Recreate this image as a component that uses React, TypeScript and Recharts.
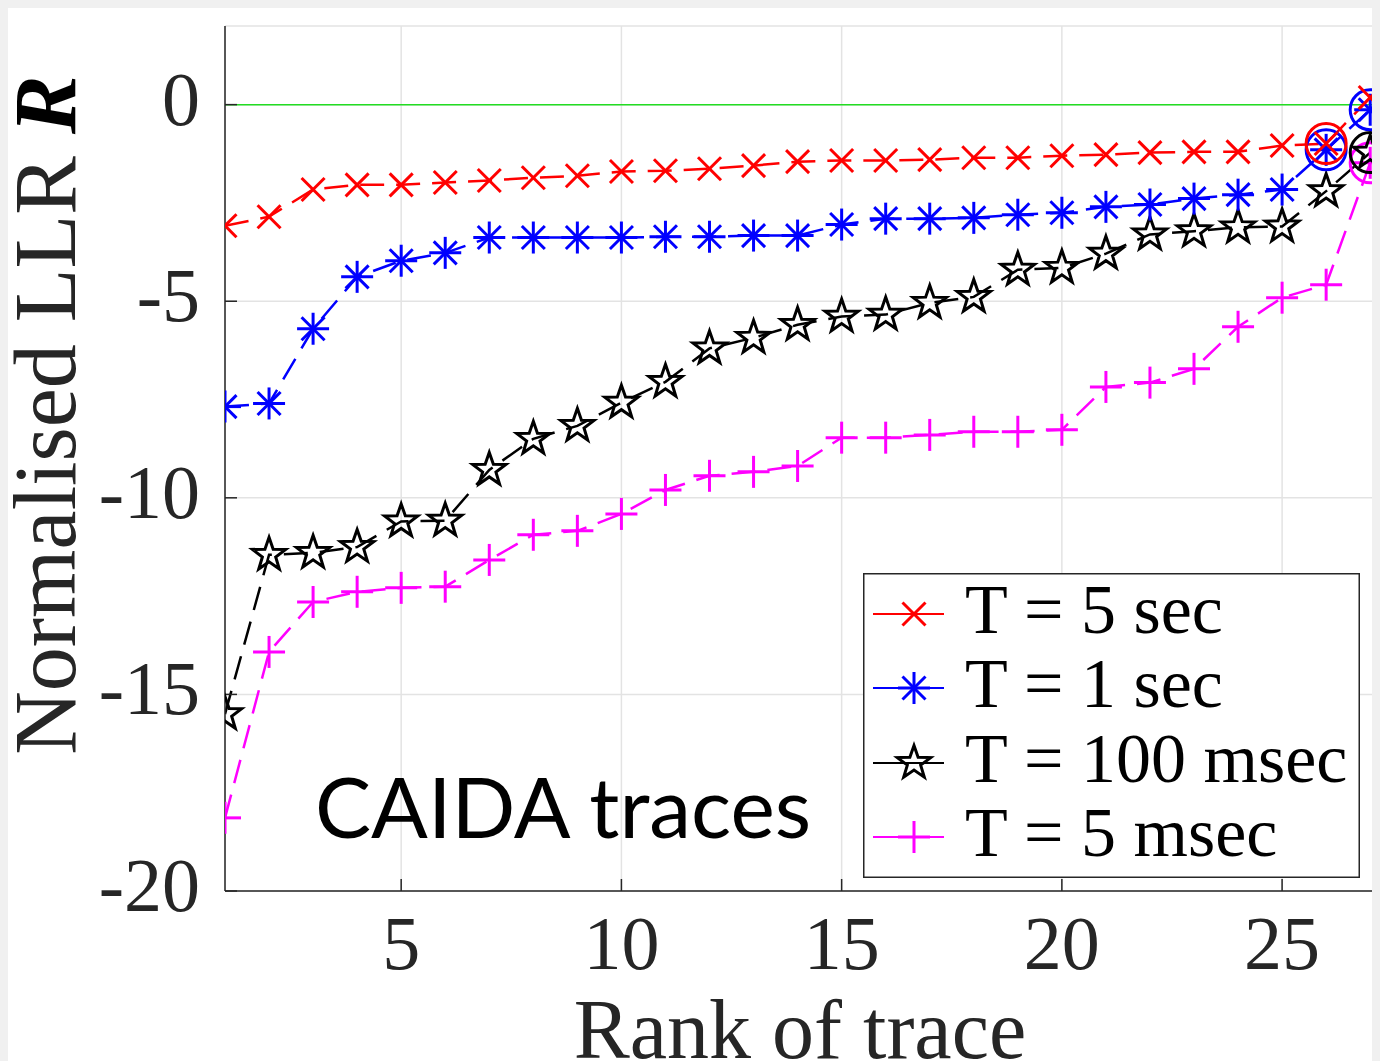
import React, { useEffect } from 'react';
import { LineChart, Line, XAxis, YAxis, CartesianGrid, ReferenceLine, Label } from 'recharts';

// rank of trace (x) and normalised LLR values per window length T
const ranks = [1, 2, 3, 4, 5, 6, 7, 8, 9, 10, 11, 12, 13, 14, 15, 16, 17, 18, 19, 20, 21, 22, 23, 24, 25, 26, 27];
const t5sec = [-3.08, -2.85, -2.16, -2.04, -2.04, -1.98, -1.93, -1.86, -1.81, -1.7, -1.68, -1.63, -1.55, -1.45, -1.42, -1.42, -1.4, -1.35, -1.35, -1.3, -1.27, -1.22, -1.2, -1.2, -1.04, -0.99, 0.18];
const t1sec = [-7.68, -7.6, -5.7, -4.38, -3.97, -3.77, -3.38, -3.38, -3.38, -3.38, -3.36, -3.36, -3.33, -3.33, -3.05, -2.9, -2.9, -2.88, -2.8, -2.75, -2.6, -2.54, -2.39, -2.29, -2.16, -1.15, -0.13];
const t100ms = [-15.5, -11.45, -11.4, -11.25, -10.6, -10.58, -9.29, -8.5, -8.17, -7.58, -7.05, -6.2, -5.93, -5.6, -5.39, -5.34, -5.04, -4.89, -4.2, -4.15, -3.79, -3.3, -3.22, -3.12, -3.1, -2.2, -1.22];
const t5ms = [-18.14, -13.92, -12.65, -12.39, -12.29, -12.26, -11.58, -10.94, -10.84, -10.41, -9.8, -9.44, -9.34, -9.19, -8.47, -8.47, -8.4, -8.32, -8.32, -8.27, -7.18, -7.07, -6.72, -5.65, -4.91, -4.58, -1.48];

// ranks whose point is circled in the figure
const circled5sec = [26];
const circled1sec = [26, 27];
const circled100ms = [27];
const circled5ms = [27];

const xTicks = [5, 10, 15, 20, 25];
const yTicks = [-20, -15, -10, -5, 0];

const legendLabels = ['T = 5 sec', 'T = 1 sec', 'T = 100 msec', 'T = 5 msec'];

const data = ranks.map((rank, i) => ({
  rank,
  t5sec: t5sec[i],
  t1sec: t1sec[i],
  t100ms: t100ms[i],
  t5ms: t5ms[i],
}));

type Shape = 'x' | 'asterisk' | 'star' | 'plus';

const SERIES: { key: string; color: string; shape: Shape; circled: number[] }[] = [
  { key: 't5sec', color: '#ff0000', shape: 'x', circled: circled5sec },
  { key: 't1sec', color: '#0000ff', shape: 'asterisk', circled: circled1sec },
  { key: 't100ms', color: '#000000', shape: 'star', circled: circled100ms },
  { key: 't5ms', color: '#ff00ff', shape: 'plus', circled: circled5ms },
];

const AXIS = '#262626';
const SERIF = '"Liberation Serif", "Times New Roman", serif';

function Marker({ shape, x, y, color }: { shape: Shape; x: number; y: number; color: string }) {
  if (shape === 'x') {
    const h = 11.5;
    return (
      <g stroke={color} strokeWidth={3}>
        <line x1={x - h} y1={y - h} x2={x + h} y2={y + h} />
        <line x1={x - h} y1={y + h} x2={x + h} y2={y - h} />
      </g>
    );
  }
  if (shape === 'asterisk') {
    const h = 16;
    const d = 11.5;
    return (
      <g stroke={color} strokeWidth={3}>
        <line x1={x - h} y1={y} x2={x + h} y2={y} />
        <line x1={x} y1={y - h} x2={x} y2={y + h} />
        <line x1={x - d} y1={y - d} x2={x + d} y2={y + d} />
        <line x1={x - d} y1={y + d} x2={x + d} y2={y - d} />
      </g>
    );
  }
  if (shape === 'plus') {
    const h = 16;
    return (
      <g stroke={color} strokeWidth={3}>
        <line x1={x - h} y1={y} x2={x + h} y2={y} />
        <line x1={x} y1={y - h} x2={x} y2={y + h} />
      </g>
    );
  }
  const R = 17.5;
  const pts: string[] = [];
  for (let k = 0; k < 10; k++) {
    const a = ((-90 + k * 36) * Math.PI) / 180;
    const r = k % 2 === 0 ? R : R * 0.4;
    pts.push(`${x + r * Math.cos(a)},${y + r * Math.sin(a)}`);
  }
  return <polygon points={pts.join(' ')} fill="none" stroke={color} strokeWidth={3} strokeLinejoin="miter" />;
}

const makeDot = (shape: Shape, color: string, circled: number[]) => (props: any) => {
  const { cx, cy, index, payload } = props;
  if (cx == null || cy == null) return <g key={`e-${index}`} />;
  return (
    <g key={`d-${index}`}>
      <Marker shape={shape} x={cx} y={cy} color={color} />
      {circled.includes(payload.rank) && (
        <circle cx={cx} cy={cy} r={20} fill="none" stroke={color} strokeWidth={3} />
      )}
    </g>
  );
};

const YTick = (props: any) => {
  const { x, y, payload } = props;
  return (
    <text x={x} y={y} dy={20} textAnchor="end" fontFamily={SERIF} fontSize={76} fill={AXIS}>
      {String(payload.value)}
    </text>
  );
};

const XTick = (props: any) => {
  const { x, y, payload } = props;
  return (
    <text x={x} y={y} dy={90} textAnchor="middle" fontFamily={SERIF} fontSize={76} fill={AXIS}>
      {String(payload.value)}
    </text>
  );
};

// legend box, drawn straight into the chart svg
const LegendBox = ({ x, y }: { x: number; y: number }) => {
  const rows = [41, 115, 190, 264];
  return (
    <g transform={`translate(${x},${y})`}>
      <rect x={0.75} y={0.75} width={495.5} height={303.5} fill="#ffffff" stroke={AXIS} strokeWidth={1.5} />
      {SERIES.map((s, i) => (
        <g key={s.key}>
          <line x1={10} y1={rows[i]} x2={81} y2={rows[i]} stroke={s.color} strokeWidth={2} />
          <Marker shape={s.shape} x={51} y={rows[i]} color={s.color} />
          <text x={102} y={rows[i] + 19} fontFamily={SERIF} fontSize={70} fill="#000000">
            {legendLabels[i]}
          </text>
        </g>
      ))}
    </g>
  );
};

export default function App() {
  useEffect(() => {
    document.body.style.background = '#f0f0f0';
    document.documentElement.style.overflow = 'hidden';
  }, []);

  // draw magenta first so red ends up on top
  const drawOrder = [...SERIES].reverse();

  return (
    <div style={{ width: 1372, height: 1053, background: '#ffffff' }}>
      <LineChart width={1372} height={1053} data={data} margin={{ top: 18, right: 1, bottom: 0, left: 0 }}>
        <CartesianGrid stroke="#e3e3e3" strokeWidth={1.5} />
        <XAxis
          dataKey="rank"
          type="number"
          domain={[1, 27.2]}
          ticks={xTicks}
          allowDataOverflow
          height={170}
          stroke={AXIS}
          strokeWidth={1.5}
          tickSize={-12}
          tickMargin={0}
          tick={<XTick />}
        >
          <Label
            content={() => (
              <text x={792} y={1050} textAnchor="middle" fontFamily={SERIF} fontSize={84} fill={AXIS}>
                Rank of trace
              </text>
            )}
          />
        </XAxis>
        <XAxis
          xAxisId="top"
          dataKey="rank"
          type="number"
          orientation="top"
          domain={[1, 27.2]}
          ticks={xTicks}
          allowDataOverflow
          height={0}
          stroke={AXIS}
          strokeWidth={1.5}
          tickSize={-12}
          tick={false}
        />
        <YAxis
          type="number"
          domain={[-20, 2]}
          ticks={yTicks}
          allowDataOverflow
          width={217}
          stroke={AXIS}
          strokeWidth={1.5}
          tickSize={-12}
          tickMargin={37}
          tick={<YTick />}
        >
          <Label
            content={() => (
              <text
                transform="translate(67,407) rotate(-90)"
                x={0}
                y={0}
                textAnchor="middle"
                fontFamily={SERIF}
                fontSize={88}
                fill="#000000"
              >
                <tspan fill={AXIS}>Normalised LLR </tspan>
                <tspan fontWeight="bold" fontStyle="italic">R</tspan>
              </text>
            )}
          />
        </YAxis>
        <YAxis
          yAxisId="right"
          type="number"
          orientation="right"
          domain={[-20, 2]}
          ticks={yTicks}
          allowDataOverflow
          width={0}
          stroke={AXIS}
          strokeWidth={1.5}
          tickSize={-12}
          tick={false}
        />
        <ReferenceLine y={0} stroke="#22dd22" strokeWidth={1.5} />
        {drawOrder.map((s) => (
          <Line
            key={s.key}
            type="linear"
            dataKey={s.key}
            stroke={s.color}
            strokeWidth={2.5}
            strokeDasharray="24 12"
            dot={makeDot(s.shape, s.color, s.circled)}
            activeDot={false}
            isAnimationActive={false}
          />
        ))}
        <text x={307} y={830} fontFamily="Lato, 'Open Sans', sans-serif" fontSize={84} fill="#000000">
          CAIDA traces
        </text>
        <LegendBox x={855} y={565} />
      </LineChart>
    </div>
  );
}
